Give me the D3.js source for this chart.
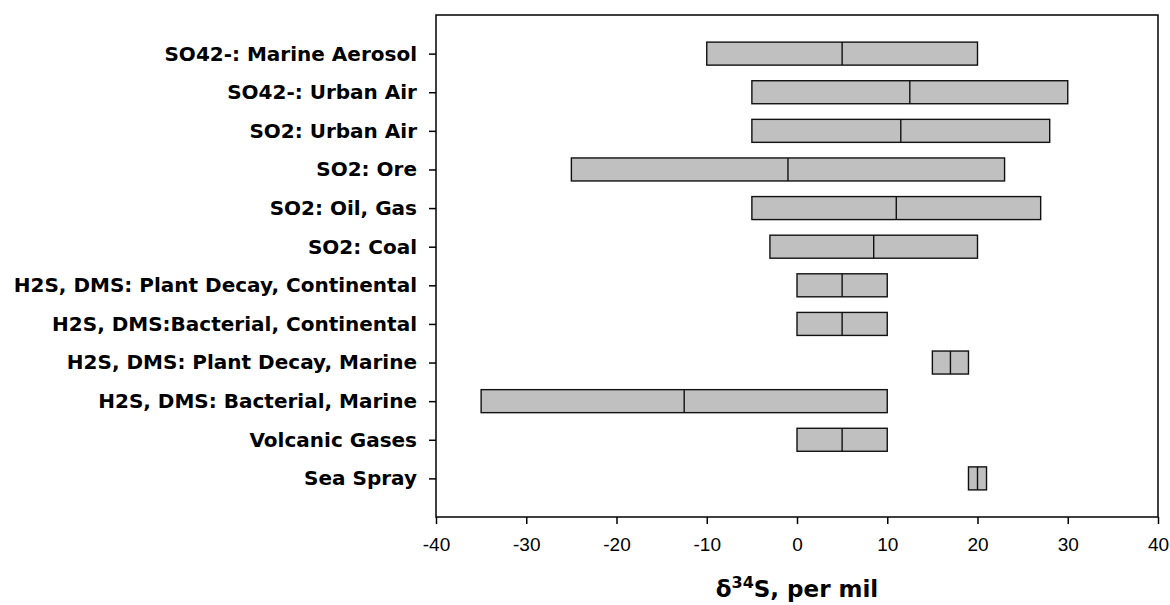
<!DOCTYPE html>
<html>
<head>
<meta charset="utf-8">
<script src="https://cdn.jsdelivr.net/npm/d3@7"></script>
<style>
  body { margin: 0; background: #fff; }
  .cat text { font-family: "DejaVu Sans", Verdana, sans-serif; font-weight: bold; font-size: 20px; fill: #000; }
  .xax text { font-family: "Liberation Sans", Arial, sans-serif; font-size: 19px; fill: #000; }
</style>
</head>
<body>
<div id="visual"></div>
<script>
var w = 1170, h = 605;
var margin = {top: 15, right: 12, bottom: 88, left: 436};

// sources, top to bottom
var sources = ["SO42-: Marine Aerosol", "SO42-: Urban Air", "SO2: Urban Air", "SO2: Ore",
  "SO2: Oil, Gas", "SO2: Coal", "H2S, DMS: Plant Decay, Continental",
  "H2S, DMS:Bacterial, Continental", "H2S, DMS: Plant Decay, Marine",
  "H2S, DMS: Bacterial, Marine", "Volcanic Gases", "Sea Spray"];
var lows    = [-10, -5, -5, -25, -5, -3, 0, 0, 15, -35, 0, 19];
var mids    = [5, 12.5, 11.5, -1, 11, 8.5, 5, 5, 17, -12.5, 5, 20];
var highs   = [20, 30, 28, 23, 27, 20, 10, 10, 19, 10, 10, 21];
var xTicks  = [-40, -30, -20, -10, 0, 10, 20, 30, 40];

var data = sources.map(function(s, i){
  return {name: s, lo: lows[i], mid: mids[i], hi: highs[i]};
});

var iw = w - margin.left - margin.right, ih = h - margin.top - margin.bottom;

var svg = d3.select("#visual").append("svg")
  .attr("width", w)
  .attr("height", h)

var g = svg.append("g").attr("transform", "translate(" + margin.left + "," + margin.top + ")");

var x = d3.scaleLinear().domain([-40, 40]).range([0, iw]);
var y = d3.scalePoint().domain(sources).range([0, ih]).padding(1);
var barH = 23;

// bars
var bars = g.selectAll(".bar").data(data).enter().append("g").attr("class", "bar");
bars.append("rect")
  .attr("x", function(d){ return x(d.lo); })
  .attr("y", function(d){ return y(d.name) - barH / 2; })
  .attr("width", function(d){ return x(d.hi) - x(d.lo); })
  .attr("height", barH)
  .style("fill", "#c0c0c0")
  .style("stroke", "#111")
  .style("stroke-width", 1.4);
bars.append("line")
  .attr("x1", function(d){ return x(d.mid); })
  .attr("x2", function(d){ return x(d.mid); })
  .attr("y1", function(d){ return y(d.name) - barH / 2; })
  .attr("y2", function(d){ return y(d.name) + barH / 2; })
  .style("stroke", "#111")
  .style("stroke-width", 1.4);

// frame
g.append("rect")
  .attr("width", iw).attr("height", ih)
  .style("fill", "none").style("stroke", "#000").style("stroke-width", 1.5);

// axes
var xa = g.append("g").attr("class", "xax")
  .attr("transform", "translate(0," + ih + ")")
  .call(d3.axisBottom(x).tickValues(xTicks).tickFormat(function(d){ return String(d); })
    .tickSize(7).tickPadding(14).tickSizeOuter(0));
var ya = g.append("g").attr("class", "cat")
  .call(d3.axisLeft(y).tickSize(7).tickPadding(12).tickSizeOuter(0));
[xa, ya].forEach(function(a){
  a.select(".domain").remove();
  a.selectAll("line").style("stroke", "#000").style("stroke-width", 1.5);
});

// axis title
var title = svg.append("text")
  .attr("x", margin.left + x(0))
  .attr("y", 597)
  .attr("text-anchor", "middle")
  .style("font-family", "'DejaVu Sans', Verdana, sans-serif")
  .style("font-weight", "bold")
  .style("font-size", "23px");
title.append("tspan").text("δ");
title.append("tspan").attr("dy", -9).style("font-size", "16px").text("34");
title.append("tspan").attr("dy", 9).text("S, per mil");
</script>
</body>
</html>
